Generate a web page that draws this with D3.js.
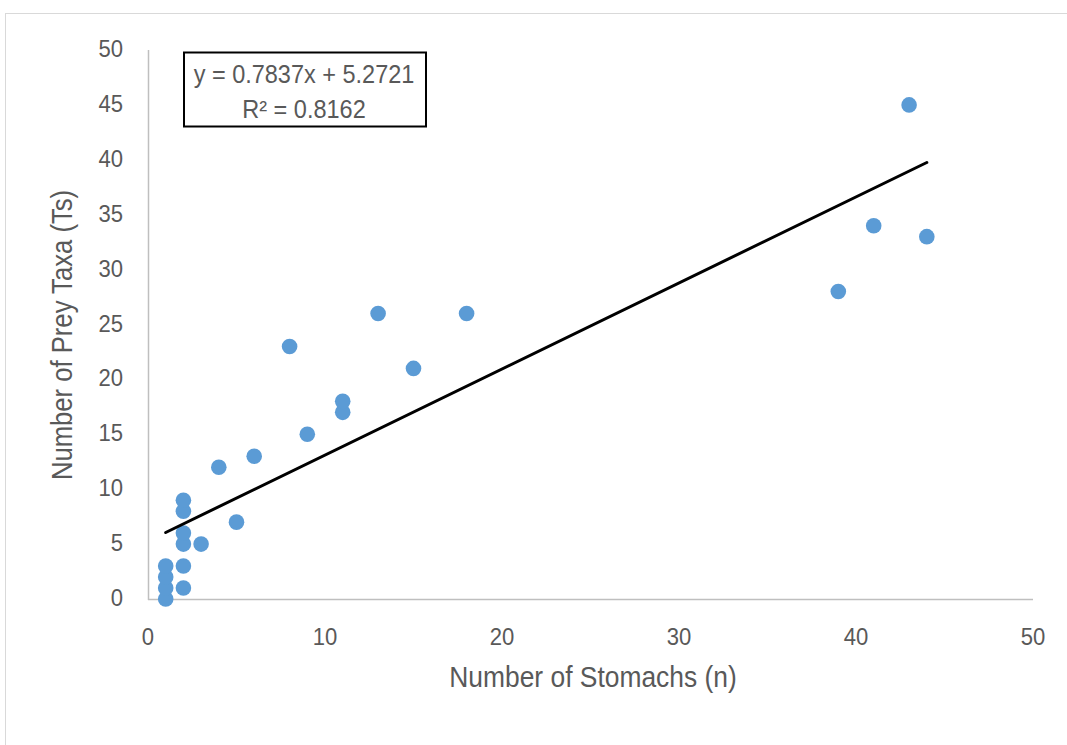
<!DOCTYPE html>
<html><head><meta charset="utf-8">
<script src="https://cdn.jsdelivr.net/npm/d3@7/dist/d3.min.js"></script>
<style>
html,body{margin:0;padding:0;background:#fff;}
svg text{font-family:"Liberation Sans",Arial,sans-serif;fill:#595959;}
</style></head><body>
<svg id="c" width="1067" height="745"></svg>
<script>
const stomachs = [1,1,1,1,2,2,2,2,2,2,3,4,5,6,8,9,11,11,13,15,18,39,41,43,44];
const preyTaxa = [0,1,2,3,1,3,5,6,8,9,5,12,7,13,23,15,17,18,26,21,26,28,34,45,33];
const xTicks = [0,10,20,30,40,50];
const yTicks = [0,5,10,15,20,25,30,35,40,45,50];
const trendSlope = [0.7837];
const trendIntercept = [5.2721];
const trendRange = [1,44];
const equationLines = ["y = 0.7837x + 5.2721","R² = 0.8162"];
const xTitle = "Number of Stomachs (n)";
const yTitle = "Number of Prey Taxa (Ts)";

const svg = d3.select("#c");
svg.append("rect").attr("x",5.5).attr("y",13.5).attr("width",1100).attr("height",800)
  .attr("fill","#fff").attr("stroke","#d9d9d9").attr("stroke-width",1);

const x = d3.scaleLinear().domain([0,50]).range([148,1033]);
const y = d3.scaleLinear().domain([0,50]).range([599,50]);

const SX = 0.92;
function label(g, tx, ty, size, anchor, str, rot, sx){
  const t = g.append("g").attr("transform",`translate(${tx},${ty})${rot?` rotate(${rot})`:""} scale(${sx||SX},1)`);
  t.append("text").attr("text-anchor",anchor).attr("font-size",size).text(str);
}

// axes lines
svg.append("line").attr("x1",x(0)).attr("x2",x(50)).attr("y1",y(0)+0.5).attr("y2",y(0)+0.5)
  .attr("stroke","#bfbfbf").attr("stroke-width",1.5);
svg.append("line").attr("x1",x(0)+0.5).attr("x2",x(0)+0.5).attr("y1",y(50)).attr("y2",y(0)+1)
  .attr("stroke","#bfbfbf").attr("stroke-width",1.5);

// tick labels
yTicks.forEach(d=>label(svg,123,y(d)+7,24,"end",d));
xTicks.forEach(d=>label(svg,x(d),645,24,"middle",d));

// titles
label(svg,593,687,29.5,"middle",xTitle,0,0.895);
label(svg,72,335,29.5,"middle",yTitle,-90,0.87);

// points
svg.selectAll(".pt").data(stomachs.map((s,i)=>[s,preyTaxa[i]])).enter().append("circle")
  .attr("cx",d=>x(d[0])).attr("cy",d=>y(d[1])).attr("r",7.8).attr("fill","#5b9bd5");

// trendline
const line = d3.line().x(d=>x(d)).y(d=>y(trendSlope[0]*d+trendIntercept[0]));
svg.append("path").attr("d",line(trendRange)).attr("stroke","#000").attr("stroke-width",3)
  .attr("fill","none").attr("stroke-linecap","round");

// equation box
svg.append("rect").attr("x",184).attr("y",52.5).attr("width",242).attr("height",74)
  .attr("fill","#fff").attr("stroke","#000").attr("stroke-width",2);
equationLines.forEach((d,i)=>label(svg,304,83+i*35,25,"middle",d,0,0.94));
</script>
</body></html>
